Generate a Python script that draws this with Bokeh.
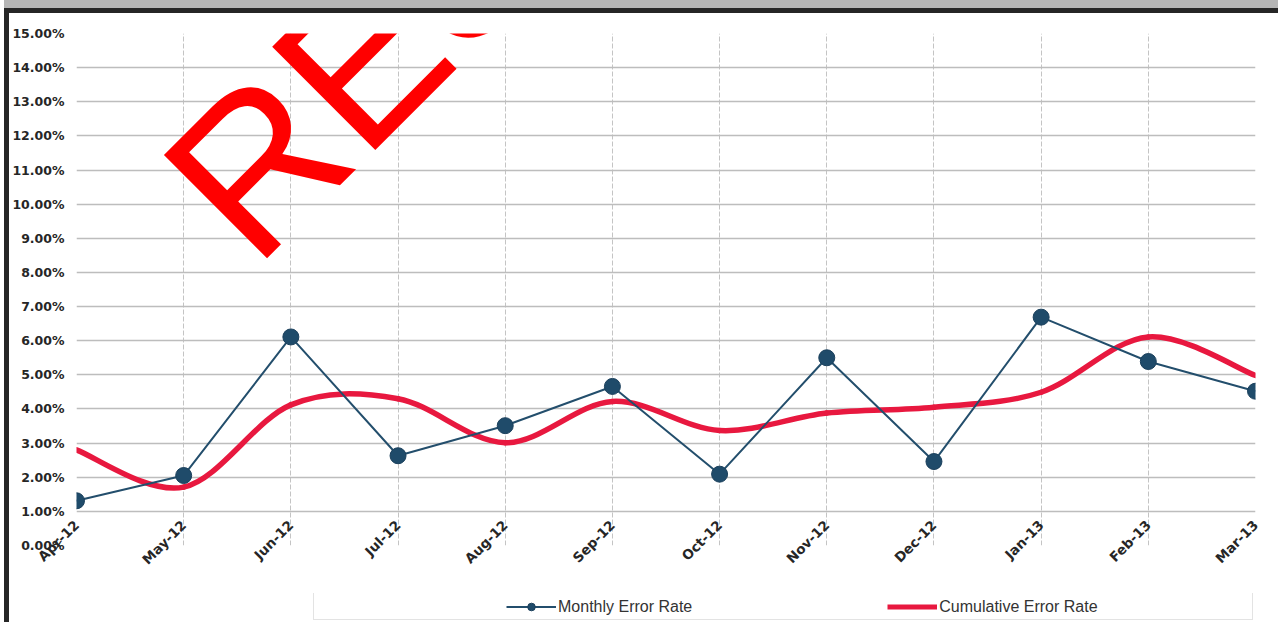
import numpy as np
from math import pi
from bokeh.plotting import figure
from bokeh.layouts import column
from bokeh.models import (Range1d, FixedTicker, NumeralTickFormatter, Legend,
                          LegendItem, Label)
from bokeh.embed import file_html
from bokeh.resources import INLINE

months = ["Apr-12", "May-12", "Jun-12", "Jul-12", "Aug-12", "Sep-12",
          "Oct-12", "Nov-12", "Dec-12", "Jan-13", "Feb-13", "Mar-13"]
monthly = [0.0131, 0.0205, 0.0611, 0.0263, 0.0351, 0.0466,
           0.0209, 0.0550, 0.0246, 0.0669, 0.0539, 0.0452]
cumulative = [0.0280, 0.0171, 0.0412, 0.0430, 0.0301, 0.0422,
              0.0337, 0.0388, 0.0405, 0.0449, 0.0611, 0.0498]
y_ticks = [i / 100 for i in range(16)]

xs = list(range(len(months)))

red = "#e8183f"
blue = "#234e6c"
marker_fill = "#1f4b6a"
marker_line = "#1b405c"

# ---------------- main chart ----------------
p = figure(width=1269, height=580, output_backend="svg", toolbar_location=None,
           x_range=Range1d(0, len(months) - 1), y_range=Range1d(0, 0.15),
           min_border_left=66, min_border_right=23, min_border_top=20,
           min_border_bottom=48, background_fill_color="white",
           border_fill_color="white")
p.outline_line_color = None

p.xgrid.ticker = FixedTicker(ticks=xs)
p.xgrid.grid_line_color = "#c4c4c4"
p.xgrid.grid_line_dash = "5 2"
p.xgrid.grid_line_width = 1
p.ygrid.ticker = FixedTicker(ticks=y_ticks)
p.ygrid.grid_line_color = "#bdbdbd"
p.ygrid.grid_line_width = 1.5

for ax in (p.xaxis[0], p.yaxis[0]):
    ax.axis_line_color = None
    ax.major_tick_line_color = None
    ax.minor_tick_line_color = None
    ax.major_tick_out = 0
    ax.major_tick_in = 0
    ax.major_label_text_font = "DejaVu Sans"
    ax.major_label_text_font_style = "bold"
    ax.major_label_text_color = "#262626"

p.xaxis.ticker = FixedTicker(ticks=xs)
p.xaxis.major_label_overrides = {i: m for i, m in enumerate(months)}
p.xaxis.major_label_orientation = pi / 4
p.xaxis.major_label_text_font_size = "13.5px"
p.xaxis.major_label_standoff = -23

p.yaxis.ticker = FixedTicker(ticks=y_ticks)
p.yaxis.formatter = NumeralTickFormatter(format="0.00%")
p.yaxis.major_label_text_font_size = "12.5px"
p.yaxis.major_label_standoff = 12

# smoothed cumulative curve (Catmull-Rom style bezier segments through the points)
X = np.array(xs, dtype=float)
Y = np.array(cumulative, dtype=float)
n = len(X)
Xp = np.concatenate([[X[0]], X, [X[-1]]])
Yp = np.concatenate([[Y[0]], Y, [Y[-1]]])
i = np.arange(n - 1)
cx0 = X[i] + (Xp[i + 2] - Xp[i]) / 6
cy0 = Y[i] + (Yp[i + 2] - Yp[i]) / 6
cx1 = X[i + 1] - (Xp[i + 3] - Xp[i + 1]) / 6
cy1 = Y[i + 1] - (Yp[i + 3] - Yp[i + 1]) / 6

p.bezier(x0=X[:-1], y0=Y[:-1], x1=X[1:], y1=Y[1:], cx0=cx0, cy0=cy0,
         cx1=cx1, cy1=cy1, line_color=red, line_width=5.5, line_cap="round")
p.line(xs, monthly, line_color=blue, line_width=2)
p.scatter(xs, monthly, size=16, fill_color=marker_fill, line_color=marker_line,
          line_width=1)

wm = Label(x=1.178, y=0.0958, text="RES", angle=45, angle_units="deg",
           text_font="Liberation Sans", text_font_size="212px", text_color="#ff0000",
           text_baseline="alphabetic", text_align="left")
p.add_layout(wm)

# ---------------- legend strip ----------------
lg = figure(width=1269, height=29, output_backend="svg", toolbar_location=None,
            x_range=Range1d(0, 11), y_range=Range1d(0, 0.15),
            x_axis_location=None, y_axis_location=None,
            min_border_left=0, min_border_right=0, min_border_top=0,
            min_border_bottom=0, background_fill_color="white",
            border_fill_color="white")
lg.outline_line_color = None
lg.grid.visible = False

box_proxy = lg.line(xs, monthly, line_alpha=0, visible=False)
m_line_p = lg.line(xs, monthly, line_color=blue, line_width=2, visible=False)
m_pts_p = lg.scatter(xs, monthly, size=16, fill_color=marker_fill,
                     line_color=marker_line, visible=False)
c_line_p = lg.line(xs, cumulative, line_color=red, line_width=5, visible=False)

leg_box = Legend(items=[LegendItem(label=" ", renderers=[box_proxy])],
                 location=(237, 2), orientation="horizontal", padding=4,
                 glyph_width=20, glyph_height=19, label_width=910, label_height=19,
                 label_standoff=0, margin=0, border_line_color="#c8c8c8",
                 border_line_width=1.5, background_fill_color="white",
                 background_fill_alpha=1)
lg.add_layout(leg_box)

leg = Legend(items=[LegendItem(label="Monthly Error Rate", renderers=[m_line_p, m_pts_p]),
                    LegendItem(label="Cumulative Error Rate", renderers=[c_line_p])],
             location=(426, 2), orientation="horizontal", padding=4, spacing=195,
             glyph_width=50, glyph_height=19, label_height=19, label_standoff=2,
             margin=0, label_text_font="Liberation Sans", label_text_font_size="16px",
             label_text_color="#333333", border_line_alpha=0,
             background_fill_alpha=0)
lg.add_layout(leg)

layout = column(p, lg, spacing=0)
layout.styles = {"margin-top": "8px", "margin-left": "4px",
                 "border-top": "5px solid #262626", "border-left": "5px solid #262626",
                 "box-shadow": "0 -8px 0 #b5b5b5"}

open("out.html", "w").write(file_html(layout, INLINE))
